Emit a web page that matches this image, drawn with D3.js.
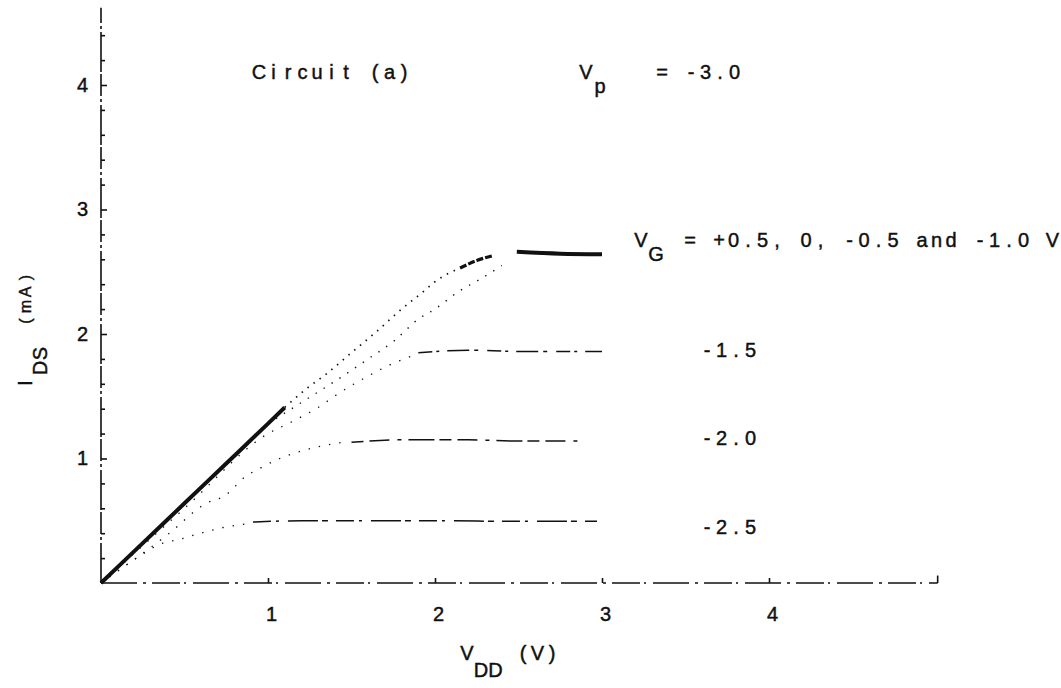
<!DOCTYPE html>
<html><head><meta charset="utf-8">
<script src="https://cdn.jsdelivr.net/npm/d3@7"></script>
<style>
body{margin:0;background:#fff}
svg{display:block}
text{font-family:"Liberation Sans Narrow","Liberation Sans",sans-serif;fill:#111;stroke:#111;stroke-width:0.45}
</style>
</head><body>
<svg id="c" width="1061" height="688"></svg>
<script>
// ---- data ----
const xTicks = [1, 2, 3, 4];
const yTicks = [1, 2, 3, 4];
const yMinorTicks = [0.2,0.4,0.6,0.8,1.2,1.4,1.6,1.8,2.2,2.4,2.6,2.8,3.2,3.4,3.6,3.8,4.2,4.4];

// VG = +0.5, 0, -0.5, -1.0 (common linear part, thick)
const vddLinear = [0, 0.25, 0.5, 0.75, 1.0, 1.1];
const idsLinear = [0, 0.32, 0.64, 0.96, 1.28, 1.41];
// upper branch of rising part (dotted)
const vddRiseTop = [1.1, 1.23, 1.35, 1.5, 1.65, 1.8, 1.93, 2.0, 2.15];
const idsRiseTop = [1.41, 1.56, 1.68, 1.85, 2.02, 2.2, 2.34, 2.42, 2.53];
// lower branch of rising part (dotted)
const vddRiseLow = [1.0, 1.2, 1.4, 1.6, 1.76, 1.9, 2.0, 2.14, 2.27, 2.4];
const idsRiseLow = [1.28, 1.45, 1.62, 1.8, 1.95, 2.12, 2.2, 2.34, 2.44, 2.55];
// dense bend
const vddBend = [2.15, 2.25, 2.35];
const idsBend = [2.53, 2.59, 2.63];
// saturation (thick)
const vddSatTop = [2.49, 2.75, 3.0];
const idsSatTop = [2.66, 2.645, 2.64];

// VG = -1.5
const vddM15Rise = [0, 0.5, 1.0, 1.15, 1.3, 1.42, 1.61, 1.76, 1.9];
const idsM15Rise = [0, 0.6, 1.2, 1.3, 1.41, 1.52, 1.67, 1.77, 1.84];
const vddM15Sat = [1.9, 2.2, 2.5, 2.8, 3.0];
const idsM15Sat = [1.85, 1.87, 1.86, 1.86, 1.86];

// VG = -2.0
const vddM20Rise = [0, 0.4, 0.63, 0.74, 0.87, 0.95, 1.07, 1.2, 1.32, 1.45];
const idsM20Rise = [0, 0.39, 0.64, 0.70, 0.86, 0.92, 1.0, 1.06, 1.10, 1.13];
const vddM20Sat = [1.5, 1.8, 2.2, 2.5, 2.88];
const idsM20Sat = [1.13, 1.15, 1.15, 1.14, 1.14];

// VG = -2.5
const vddM25Rise = [0, 0.19, 0.37, 0.47, 0.57, 0.75, 0.91];
const idsM25Rise = [0, 0.18, 0.32, 0.35, 0.39, 0.45, 0.48];
const vddM25Sat = [0.91, 1.2, 1.6, 2.0, 2.5, 2.97];
const idsM25Sat = [0.49, 0.50, 0.50, 0.50, 0.495, 0.495];

// ---- drawing ----
const svg = d3.select("#c");
const x = d3.scaleLinear().domain([0, 5]).range([101, 936]);
const y = d3.scaleLinear().domain([0, 4]).range([583, 85]);
const FS = 20, ADV = 14.5;

const zip = (a, b) => a.map((v, i) => [v, b[i]]);
const line = d3.line().x(d => x(d[0])).y(d => y(d[1])).curve(d3.curveMonotoneX);

function draw(vx, vy, w, dash) {
  svg.append("path").attr("d", line(zip(vx, vy)))
    .attr("fill", "none").attr("stroke", "#111")
    .attr("stroke-width", w).attr("stroke-dasharray", dash || null);
}

// typewriter-style text: one glyph per fixed-width cell (cx = centre of first cell)
function mono(parent, cx, by, str, size) {
  const xs = [], cs = [];
  [...str].forEach((c, i) => { if (c !== " ") { xs.push((cx + i * ADV).toFixed(1)); cs.push(c); } });
  return parent.append("text").attr("x", xs.join(" ")).attr("y", by)
    .attr("text-anchor", "middle").attr("font-size", size || FS).text(cs.join(""));
}

// axes lines
svg.append("line").attr("x1", x(0)).attr("x2", x(0)).attr("y1", y(0)).attr("y2", y(4.62))
  .attr("stroke", "#111").attr("stroke-width", 1.6).attr("stroke-dasharray", "40,3,3,3,22,2");
svg.append("line").attr("x1", x(0)).attr("x2", x(5.01)).attr("y1", y(0)).attr("y2", y(0))
  .attr("stroke", "#111").attr("stroke-width", 1.6).attr("stroke-dasharray", "36,6,3,6,28,4,2,7");
svg.append("line").attr("x1", x(5.01)).attr("x2", x(5.01)).attr("y1", y(0)).attr("y2", y(0.06))
  .attr("stroke", "#111").attr("stroke-width", 1.6);

// y ticks (pointing inward)
const yAxMinor = d3.axisLeft(y).tickValues(yMinorTicks).tickSize(-4).tickFormat("");
svg.append("g").attr("transform", `translate(${x(0)},0)`).call(yAxMinor)
  .call(g => g.select(".domain").remove())
  .call(g => g.selectAll("line").attr("stroke", "#111").attr("stroke-width", 1.6));
const yAx = d3.axisLeft(y).tickValues(yTicks).tickSize(-6).tickPadding(13).tickFormat(d3.format("d"));
svg.append("g").attr("transform", `translate(${x(0)},0)`).call(yAx)
  .call(g => g.select(".domain").remove())
  .call(g => g.selectAll("line").attr("stroke", "#111").attr("stroke-width", 1.6))
  .call(g => g.selectAll("text").attr("font-size", FS).attr("font-family", null).attr("fill", "#111"));

// x ticks (pointing up)
const xAx = d3.axisBottom(x).tickValues(xTicks).tickSize(-5).tickPadding(24).tickFormat(d3.format("d"));
svg.append("g").attr("transform", `translate(0,${y(0)})`).call(xAx)
  .call(g => g.select(".domain").remove())
  .call(g => g.selectAll("line").attr("stroke", "#111").attr("stroke-width", 1.6))
  .call(g => g.selectAll("text").attr("font-size", FS).attr("font-family", null).attr("fill", "#111").attr("dx", 3));

// curves
draw(vddLinear, idsLinear, 4);
draw(vddRiseTop, idsRiseTop, 1.7, "1.5,6");
draw(vddRiseLow, idsRiseLow, 1.4, "1.4,8");
draw(vddBend, idsBend, 3.2, "7,2");
draw(vddSatTop, idsSatTop, 4);

draw(vddM15Rise, idsM15Rise, 1.3, "1.4,9");
draw(vddM15Sat, idsM15Sat, 1.5, "14,4,3,8,22,5,4,9");
draw(vddM20Rise, idsM20Rise, 1.3, "1.4,9");
draw(vddM20Sat, idsM20Sat, 1.5, "12,6,20,8,4,7,26,5");
draw(vddM25Rise, idsM25Rise, 1.3, "1.4,9");
draw(vddM25Sat, idsM25Sat, 1.5, "18,5,3,9,30,4,6,8");

// annotations
mono(svg, 259, 79, "Circuit (a)");
mono(svg, 586, 79, "V");
mono(svg, 600, 93, "p");
mono(svg, 662, 79, "= -3.0");

mono(svg, 641, 247, "V");
mono(svg, 656, 261, "G");
mono(svg, 690, 247, "= +0.5, 0, -0.5 and -1.0 V");

mono(svg, 707, 357, "-1.5");
mono(svg, 707, 445, "-2.0");
mono(svg, 707, 534, "-2.5");

// x axis title
mono(svg, 467, 660, "V");
mono(svg, 481, 677, "DD");
mono(svg, 523, 660, "(V)");

// y axis title (rotated)
const yg = svg.append("g").attr("transform", "rotate(-90)");
mono(yg, -383, 32, "I", 21);
mono(yg, -368, 47, "DS");
mono(yg, -321, 31, "(mA)", 16);
</script>
</body></html>
